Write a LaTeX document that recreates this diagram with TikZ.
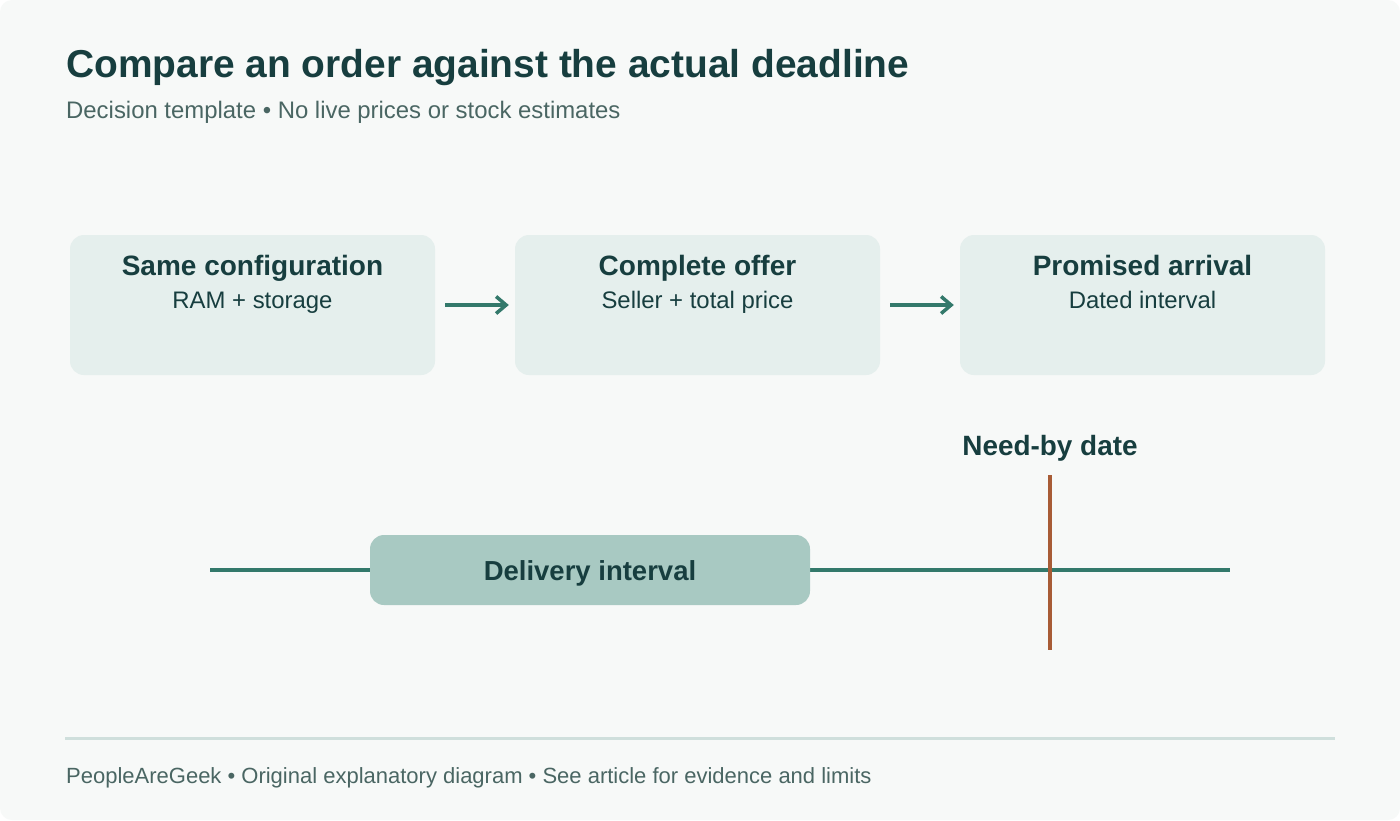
\documentclass[tikz,border=0pt]{standalone}
\usepackage{fontspec}
\setmainfont{Liberation Sans}
\usetikzlibrary{arrows.meta}
\definecolor{bgc}{HTML}{F7F9F8}
\definecolor{titlec}{HTML}{173E3F}
\definecolor{subc}{HTML}{4A6663}
\definecolor{boxc}{HTML}{E5EFED}
\definecolor{teal}{HTML}{33796B}
\definecolor{delc}{HTML}{A8C9C2}
\definecolor{rust}{HTML}{A85C36}
\definecolor{rulec}{HTML}{CFDFDC}
\tikzset{
  stepbox/.style={fill=boxc, rounded corners=14pt, minimum width=365pt, minimum height=140pt, inner sep=0pt},
  boxtitle/.style={font=\fontsize{28}{32}\selectfont\bfseries, text=titlec, anchor=base, inner sep=0pt},
  boxsub/.style={font=\fontsize{23.9}{28}\selectfont, text=titlec, anchor=base, inner sep=0pt},
  flow/.style={draw=teal, line width=3.5pt, -{Straight Barb[length=10pt,width=17pt,line width=3.5pt]}},
}
\begin{document}
\begin{tikzpicture}[x=1pt,y=-1pt]
\useasboundingbox (0,0) rectangle (1400,820);
\fill[white] (0,0) rectangle (1400,820);
\fill[bgc, rounded corners=12pt] (0,0) rectangle (1400,820);
% title
\node[anchor=base west, inner sep=0pt, font=\fontsize{38.9}{44}\selectfont\bfseries, text=titlec] (title) at (66,77) {Compare an order against the actual deadline};
\node[anchor=base west, inner sep=0pt, font=\fontsize{23.9}{28}\selectfont, text=subc] (subtitle) at (66,118) {Decision template • No live prices or stock estimates};
% boxes
\node[stepbox] (b1) at (252.5,305) {};
\node[stepbox] (b2) at (697.5,305) {};
\node[stepbox] (b3) at (1142.5,305) {};
\node[boxtitle] (t1) at (252.5,275) {Same configuration};
\node[boxsub] (s1) at (252.5,308) {RAM + storage};
\node[boxtitle] (t2) at (697.5,275) {Complete offer};
\node[boxsub] (s2) at (697.5,308) {Seller + total price};
\node[boxtitle] (t3) at (1142.5,275) {Promised arrival};
\node[boxsub] (s3) at (1142.5,308) {Dated interval};
\draw[flow] ([xshift=10pt]b1.east) -- ([xshift=-6pt]b2.west);
\draw[flow] ([xshift=10pt]b2.east) -- ([xshift=-6pt]b3.west);
% timeline
\coordinate (tl) at (210,570);
\coordinate (tr) at (1230,570);
\draw[teal, line width=4pt] (tl) -- (tr);
\node[fill=delc, rounded corners=14pt, minimum width=440pt, minimum height=70pt, inner sep=0pt] (del) at (590,570) {};
\node[anchor=base, inner sep=0pt, font=\fontsize{27.5}{32}\selectfont\bfseries, text=titlec] (dellab) at (590,580) {Delivery interval};
\coordinate (nt) at (1050,475);
\coordinate (nb) at (1050,650);
\draw[rust, line width=4pt] (nt) -- (nb);
\node[anchor=base, inner sep=0pt, font=\fontsize{27.9}{32}\selectfont\bfseries, text=titlec] (need) at (1050,455) {Need-by date};
% footer
\coordinate (fl) at (65,738);
\coordinate (fr) at (1335,738);
\draw[rulec, line width=3pt] (fl) -- (fr);
\node[anchor=base west, inner sep=0pt, font=\fontsize{22}{26}\selectfont, text=subc] (footer) at (66,783) {PeopleAreGeek • Original explanatory diagram • See article for evidence and limits};
\end{tikzpicture}
\end{document}
